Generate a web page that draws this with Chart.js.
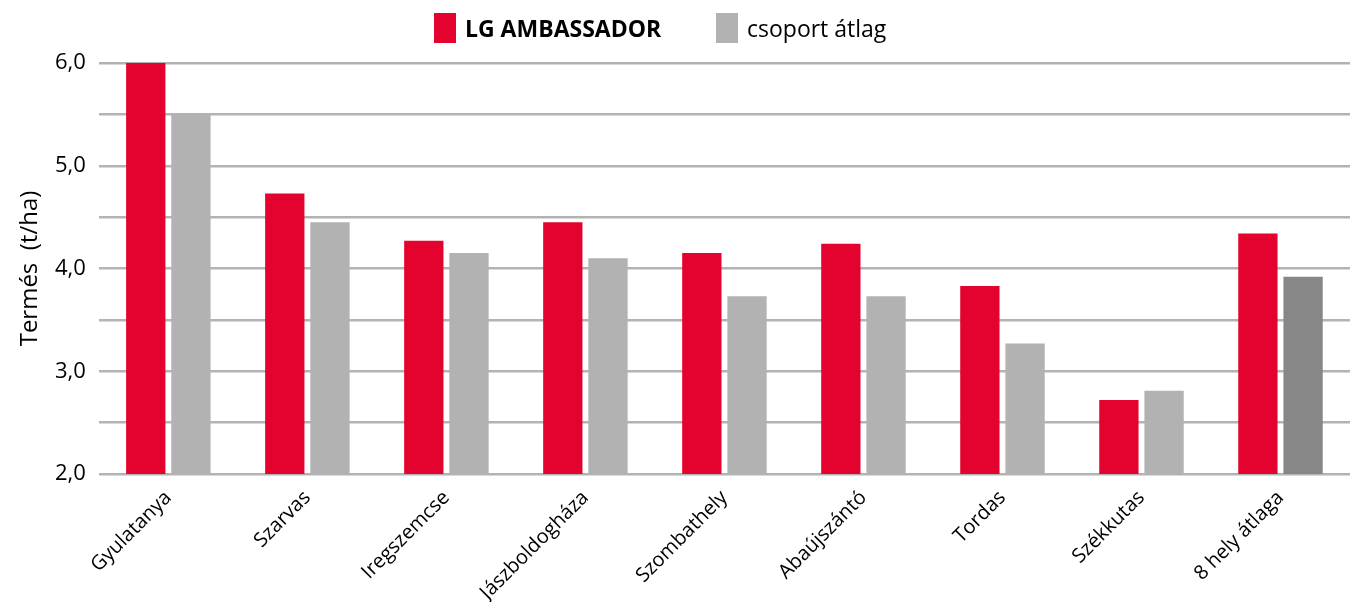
<!DOCTYPE html>
<html>
<head>
<meta charset="utf-8">
<script src="https://cdn.jsdelivr.net/npm/chart.js@4.4.1/dist/chart.umd.min.js"></script>
<style>
    body { margin: 0; background: #fff; }
    #wrap { position: relative; width: 1350px; height: 602px; }
    #legend {
        position: absolute; top: 13px; left: 0; width: 1350px; height: 31px;
        font-family: 'Open Sans', sans-serif; font-size: 23px; color: #000;
    }
    .item { position: absolute; top: 0; height: 31px; line-height: 30px; white-space: nowrap; }
    .box { display: inline-block; width: 22px; height: 30px; vertical-align: top; margin-right: 9px; }
</style>
</head>
<body>
<div id="wrap">
    <canvas id="chart" width="1350" height="602"></canvas>
    <div id="legend"></div>
</div>
<script>
const categories = ['Gyulatanya', 'Szarvas', 'Iregszemcse', 'Jászboldogháza', 'Szombathely', 'Abaújszántó', 'Tordas', 'Székkutas', '8 hely átlaga'];
const seriesNames = ['LG AMBASSADOR', 'csoport átlag'];
const lgValues = [6.0, 4.73, 4.27, 4.45, 4.15, 4.24, 3.83, 2.72, 4.34];
const groupValues = [5.5, 4.45, 4.15, 4.10, 3.73, 3.73, 3.27, 2.81, 3.92];
const yTicks = [2, 3, 4, 5, 6];

const RED = '#e4032e';
const GREY = '#b2b2b2';
const DARK_GREY = '#878787';

// last grey bar (the 8-site average) is darker in the original
const groupColors = groupValues.map((v, i) => i === groupValues.length - 1 ? DARK_GREY : GREY);

// legend as html so the first label can be bold
const legend = document.getElementById('legend');
legend.innerHTML =
    '<div class="item" style="left:434px;font-weight:bold"><span class="box" style="background:' + RED + '"></span>' + seriesNames[0] + '</div>' +
    '<div class="item" style="left:716px"><span class="box" style="background:' + GREY + '"></span>' + seriesNames[1] + '</div>';

const ctx = document.getElementById('chart').getContext('2d');
new Chart(ctx, {
    type: 'bar',
    data: {
        labels: categories,
        datasets: [
            {
                label: seriesNames[0],
                data: lgValues,
                backgroundColor: RED,
                categoryPercentage: 0.65,
                barPercentage: 0.87
            },
            {
                label: seriesNames[1],
                data: groupValues,
                backgroundColor: groupColors,
                categoryPercentage: 0.65,
                barPercentage: 0.87
            }
        ]
    },
    options: {
        responsive: false,
        animation: false,
        layout: { padding: { top: 63, right: 0, bottom: 0, left: 18 } },
        plugins: {
            legend: { display: false },
            tooltip: { enabled: false }
        },
        scales: {
            x: {
                grid: { display: false },
                border: { display: false },
                ticks: {
                    color: '#000',
                    minRotation: 45,
                    maxRotation: 45,
                    padding: 4,
                    font: { family: 'Open Sans', size: 20 }
                },
                // keep the label band the same height as in the original
                afterFit: (scale) => { scale.height = 128; }
            },
            y: {
                min: 2,
                max: 6,
                border: { display: false },
                grid: { color: '#b3b3b3', lineWidth: 2.5, drawTicks: false },
                ticks: {
                    stepSize: 0.5,
                    color: '#000',
                    padding: 13,
                    font: { family: 'Open Sans', size: 22 },
                    callback: (v) => yTicks.includes(v) ? v.toFixed(1).replace('.', ',') : ''
                },
                title: {
                    display: true,
                    text: 'Termés  (t/ha)',
                    color: '#000',
                    padding: { top: 0, bottom: 0 },
                    font: { family: 'Open Sans', size: 24, lineHeight: 1 }
                }
            }
        }
    }
});
</script>
</body>
</html>
